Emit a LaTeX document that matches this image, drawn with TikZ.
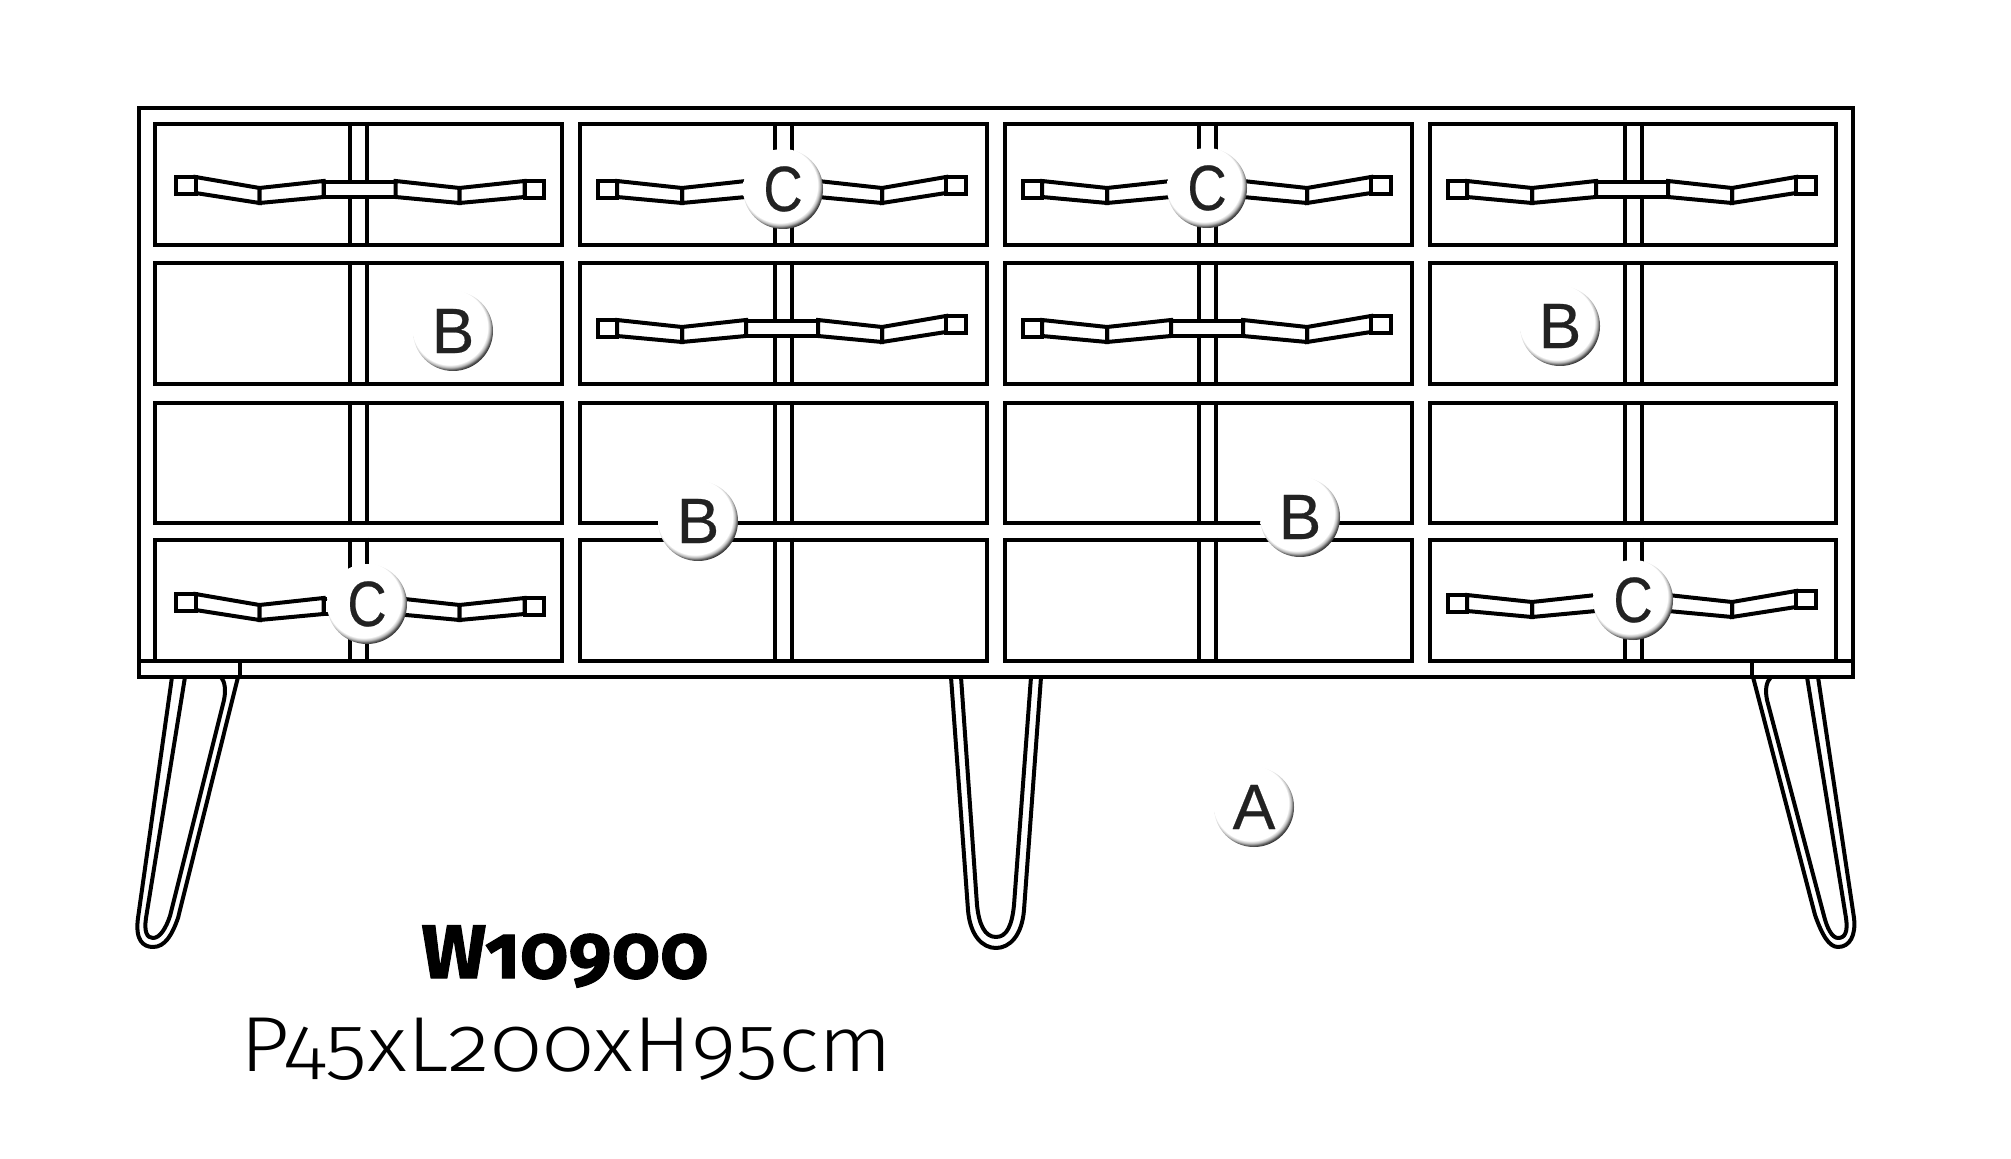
\documentclass[tikz,border=0pt]{standalone}
\usepackage{fontspec}
\usetikzlibrary{positioning}
\setsansfont[FakeBold=0.4]{Liberation Sans}
\newfontfamily\titlefont[Numbers=OldStyle, BoldFeatures={FakeBold=1.5}, LetterSpace=1]{Fira Sans}
\newfontfamily\sizefont[Numbers=OldStyle]{Fira Sans Light}
\definecolor{inkdark}{HTML}{222222}

% Rim of the letter discs
\pgfdeclareradialshading{badgeglow}{\pgfpoint{-3.8bp}{4.6bp}}{%
  color(0bp)=(white); color(23.5bp)=(white); color(25bp)=(black!25);
  color(26.5bp)=(black!70); color(27.7bp)=(black!85); color(50bp)=(black!85)}

\begin{document}
\begin{tikzpicture}[x=0.5pt, y=-0.5pt]

% Estilos
\tikzset{
    cabinet/.style={draw, line width=2.3pt, line join=miter},
    drawerbox/.style={draw, line width=2.3pt, line join=miter},
    stripline/.style={draw, line width=2.1pt},
    legline/.style={draw, line width=2pt, line join=round},
    handleline/.style={draw, fill=white, line width=2pt, line join=miter},
    badge/.style={circle, minimum size=40pt, inner sep=0pt, shade, shading=badgeglow, text=inkdark, font=\sffamily\fontsize{32}{32}\selectfont},
    handle/.pic={
        \path[handleline] (-36,-6) rectangle (36,9);
        \path[handleline] (-164,-11) -- (-100,0) -- (-100,15) -- (-164,5) -- cycle;
        \path[handleline] (-100,0) -- (-36,-7) -- (-36,9) -- (-100,15) -- cycle;
        \path[handleline] (36,-7) -- (100,0) -- (100,15) -- (36,9) -- cycle;
        \path[handleline] (100,0) -- (165,-7) -- (165,9) -- (100,15) -- cycle;
        \path[handleline] (-184,-11) rectangle (-164,6);
        \path[handleline] (165,-7) rectangle (184,10);
    }
}

\useasboundingbox (0,0) rectangle (2011,1159);

% Pernas
\path[legline] (172,677) -- (138,918) .. controls (135,940) and (143,947) .. (153,947) .. controls (165,947) and (172,935) .. (178,918) -- (238,677);
\path[legline] (185,677) -- (146,918) .. controls (144,932) and (147,938) .. (153,938) .. controls (160,938) and (166,928) .. (170,916) -- (224,700) .. controls (226,690) and (225,682) .. (221,677);
\path[legline] (951,677) -- (968,910) .. controls (970,935) and (982,948) .. (996,948) .. controls (1010,948) and (1022,935) .. (1024,910) -- (1041,677);
\path[legline] (961,677) -- (977,905) .. controls (979,925) and (985,937) .. (996,937) .. controls (1007,937) and (1012,925) .. (1014,905) -- (1031,677);
\path[legline] (1753,677) -- (1815,915) .. controls (1822,935) and (1829,947) .. (1838,947) .. controls (1850,947) and (1856,935) .. (1854,918) -- (1818,677);
\path[legline] (1807,677) -- (1846,918) .. controls (1848,932) and (1845,938) .. (1838,938) .. controls (1832,938) and (1827,928) .. (1824,916) -- (1767,700) .. controls (1765,690) and (1766,682) .. (1771,677);

% Corpo
\path[cabinet] (139,108) rectangle (1853,677);
\path[cabinet] (139,661) -- (240,661) -- (240,677);
\path[cabinet] (1853,661) -- (1752,661) -- (1752,677);

% Gavetas
\foreach \xa/\xb/\xc in {155/562/358.5, 580/987/783.5, 1005/1412/1207.5, 1430/1836/1633.5} {
    \foreach \ya/\yb in {124/245, 263/384, 403/523, 540/661} {
        \path[drawerbox] (\xa,\ya) rectangle (\xb,\yb);
        \path[stripline] (\xc-8.5,\ya) -- (\xc-8.5,\yb);
        \path[stripline] (\xc+8.5,\ya-2) -- (\xc+8.5,\yb+2);
    }
}

% Puxadores
\pic at (359.5,188) {handle};
\pic[xscale=-1] at (782,188) {handle};
\pic[xscale=-1] at (1207,188) {handle};
\pic[xscale=-1] at (1632,188) {handle};
\pic[xscale=-1] at (782,327) {handle};
\pic[xscale=-1] at (1207,327) {handle};
\pic at (359.5,605) {handle};
\pic[xscale=-1] at (1632,602) {handle};

% Letras
\node (letterCa) [badge] at (783,189) {\scalebox{.85}[1]{C}};
\node (letterCb) [badge] at (1207,188) {\scalebox{.85}[1]{C}};
\node (letterCc) [badge] at (367,604) {\scalebox{.85}[1]{C}};
\node (letterCd) [badge] at (1633,600) {\scalebox{.85}[1]{C}};
\node (letterBa) [badge] at (453,331) {B};
\node (letterBb) [badge] at (1560,326) {B};
\node (letterBc) [badge] at (698,521) {B};
\node (letterBd) [badge] at (1300,517) {B};
\node (letterA) [badge] at (1254,807) {A};

% Textos
\node (model) [anchor=base, inner sep=0pt, font=\titlefont\bfseries\fontsize{38}{38}\selectfont] at (565,978) {W10900};
\node (sizes) [anchor=base, inner sep=0pt, font=\sizefont\fontsize{39}{39}\selectfont] at (566.5,1071) {\scalebox{1.11}[1]{P45xL200xH95cm}};

\end{tikzpicture}
\end{document}
